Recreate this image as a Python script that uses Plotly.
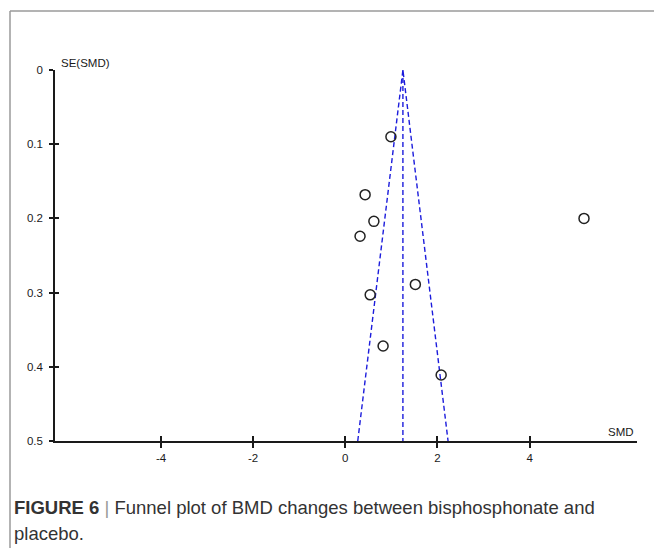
import plotly.graph_objects as go

# Study data
smd = [0.99, 0.43, 0.62, 0.32, 1.52, 0.54, 0.82, 2.08, 5.18]
se_smd = [0.090, 0.168, 0.204, 0.224, 0.289, 0.303, 0.372, 0.411, 0.200]

# Funnel (pooled estimate and 95% limits at the maximum SE)
funnel_x = [0.27, 1.25, 2.23]
funnel_y = [0.5, 0.0, 0.5]
center_x = [1.25, 1.25]
center_y = [0.0, 0.5]

x_ticks = [-4, -2, 0, 2, 4]
y_ticks = [0, 0.1, 0.2, 0.3, 0.4, 0.5]
y_tick_text = ["0", "0.1", "0.2", "0.3", "0.4", "0.5"]

W, H = 654, 548
L, R, T, B = 55, 17, 70, 107
pw, ph = W - L - R, H - T - B


def px_x(p):
    return (p - L) / pw


def px_y(p):
    return (H - B - p) / ph


fig = go.Figure()
dash_line = dict(color="#1c1cdc", width=1.4, dash="5px,3px")
fig.add_trace(go.Scatter(x=funnel_x, y=funnel_y, mode="lines", line=dash_line,
                         hoverinfo="skip", showlegend=False))
fig.add_trace(go.Scatter(x=center_x, y=center_y, mode="lines", line=dash_line,
                         hoverinfo="skip", showlegend=False))
fig.add_trace(go.Scatter(x=smd, y=se_smd, mode="markers",
                         marker=dict(symbol="circle-open", size=10,
                                     color="#222222", line=dict(width=1.5)),
                         showlegend=False))
# invisible trace on overlay axes to draw inward tick halves
fig.add_trace(go.Scatter(x=[0], y=[0], xaxis="x2", yaxis="y2", mode="markers",
                         marker=dict(opacity=0), showlegend=False, hoverinfo="skip"))

font_tick = dict(family="Liberation Sans, Arial, sans-serif", size=11.5, color="#1a1a1a")
cap_font = dict(family="Liberation Sans, Arial, sans-serif", size=18.5, color="#333333")

fig.update_layout(
    width=W, height=H,
    margin=dict(l=L, r=R, t=T, b=B),
    paper_bgcolor="white", plot_bgcolor="white",
    xaxis=dict(range=[-6.3, 6.33], tickvals=x_ticks, ticktext=[str(v) for v in x_ticks],
               showgrid=False, zeroline=False, showline=True, linecolor="#1a1a1a",
               linewidth=1.5, ticks="outside", ticklen=5, tickwidth=1.5,
               tickcolor="#1a1a1a", tickfont=font_tick),
    yaxis=dict(range=[0.5, 0], tickvals=y_ticks, ticktext=y_tick_text,
               showgrid=False, zeroline=False, showline=True, linecolor="#1a1a1a",
               linewidth=1.5, ticks="outside", ticklen=4, tickwidth=1.5,
               tickcolor="#1a1a1a", tickfont=font_tick, ticklabelstandoff=4),
    xaxis2=dict(range=[-6.3, 6.33], tickvals=x_ticks, overlaying="x",
                showticklabels=False, showgrid=False, zeroline=False,
                ticks="inside", ticklen=5, tickwidth=1.5, tickcolor="#1a1a1a",
                side="bottom", anchor="y2"),
    yaxis2=dict(range=[0.5, 0], tickvals=y_ticks, overlaying="y",
                showticklabels=False, showgrid=False, zeroline=False,
                ticks="inside", ticklen=4, tickwidth=1.5, tickcolor="#1a1a1a",
                side="left", anchor="x2"),
    shapes=[
        dict(type="line", xref="paper", yref="paper",
             x0=px_x(10), x1=px_x(660), y0=px_y(11), y1=px_y(11),
             line=dict(color="#9a9a9a", width=1.5)),
        dict(type="line", xref="paper", yref="paper",
             x0=px_x(10), x1=px_x(10), y0=px_y(11), y1=px_y(560),
             line=dict(color="#9a9a9a", width=1.5)),
    ],
    annotations=[
        dict(text="SE(SMD)", xref="paper", yref="paper", x=px_x(59), y=px_y(63),
             xanchor="left", yanchor="middle", showarrow=False, font=font_tick),
        dict(text="SMD", xref="paper", yref="paper", x=px_x(636), y=px_y(432),
             xanchor="right", yanchor="middle", showarrow=False, font=font_tick),
        dict(text="<b>FIGURE 6</b> <span style='color:#999999'>|</span> Funnel plot of BMD changes between bisphosphonate and",
             xref="paper", yref="paper", x=px_x(12), y=px_y(507),
             xanchor="left", yanchor="middle", showarrow=False, font=cap_font),
        dict(text="placebo.",
             xref="paper", yref="paper", x=px_x(12), y=px_y(533),
             xanchor="left", yanchor="middle", showarrow=False, font=cap_font),
    ],
)

fig.write_html("out.html", config={"displayModeBar": False},
               post_script="document.body.style.margin='0';document.body.style.padding='0';")
